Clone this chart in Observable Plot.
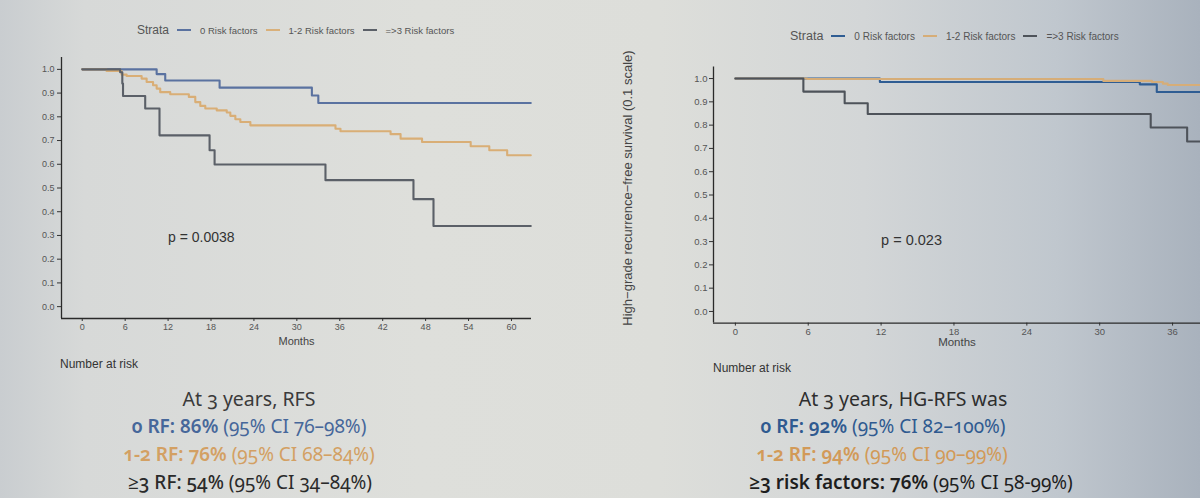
<!DOCTYPE html>
<html>
<head>
<meta charset="utf-8">
<script src="https://cdn.jsdelivr.net/npm/d3@7"></script>
<script src="https://cdn.jsdelivr.net/npm/@observablehq/plot@0.6"></script>
<style>
  html, body { margin:0; padding:0; }
  body {
    width:1200px; height:498px; overflow:hidden; position:relative;
    background: linear-gradient(90deg, #c9cdd0 0%, #d7d9d8 7%, #dedfdb 35%, #dddeda 55%, #d3d6d7 72%, #c0c7ce 88%, #a9b2bd 100%);
    font-family: "Liberation Sans", Arial, sans-serif;
  }
  .abs { position:absolute; white-space:nowrap; }
  .legend { color:#555; font-size:9.5px; display:flex; align-items:center; }
  .legend .title { font-size:12px; margin-right:8px; }
  .legend .sw { display:inline-block; width:14px; height:2px; margin:0 9px 0 0; }
  .legend .lab { margin-right:8px; }
  .nar { font-size:12px; color:#333; }
  .summary { font-family: "Noto Sans", "Open Sans", sans-serif; font-variant-numeric: oldstyle-nums; line-height:1; transform: translate(-50%, -50%); }
  .summary b { font-weight:600; }
  .ytitle { font-size:13px; color:#444; transform: translate(-50%, -50%) rotate(-90deg); }
</style>
</head>
<body>
<div id="left" class="abs" style="left:0; top:45px;"></div>
<div id="right" class="abs" style="left:600px; top:50px;"></div>

<div class="abs legend" style="left:137px; top:23px;">
  <span class="title">Strata</span>
  <span class="sw" style="background:#5a72a0"></span><span class="lab">0 Risk factors</span>
  <span class="sw" style="background:#d9b07a"></span><span class="lab">1-2 Risk factors</span>
  <span class="sw" style="background:#5b6068"></span><span class="lab">=&gt;3 Risk factors</span>
</div>
<div class="abs legend" style="left:790px; top:29px; font-size:10px;">
  <span class="title" style="font-size:12.5px">Strata</span>
  <span class="sw" style="background:#2f5d93"></span><span class="lab">0 Risk factors</span>
  <span class="sw" style="background:#d6ad78"></span><span class="lab">1-2 Risk factors</span>
  <span class="sw" style="background:#4e535a"></span><span class="lab">=&gt;3 Risk factors</span>
</div>

<div class="abs ytitle" style="left:627px; top:188px;">High−grade recurrence−free survival (0.1 scale)</div>

<div class="abs nar" style="left:60px; top:357px;">Number at risk</div>
<div class="abs nar" style="left:713px; top:361px;">Number at risk</div>

<div class="abs summary" style="left:249px; top:399px; font-size:19.5px; color:#3a3a3a;">At 3 years, RFS</div>
<div class="abs summary" style="left:249px; top:426px; font-size:19px; color:#46679a;"><b>0 RF: 86%</b> (95% CI 76–98%)</div>
<div class="abs summary" style="left:249px; top:454px; font-size:19px; color:#d3a063;"><b>1-2 RF: 76%</b> (95% CI 68–84%)</div>
<div class="abs summary" style="left:250px; top:482px; font-size:19px; color:#2a2a2a;"><b style="font-weight:500">≥3 RF: 54%</b> (95% CI 34–84%)</div>

<div class="abs summary" style="left:903px; top:399px; font-size:19.5px; color:#2e2e2e;">At 3 years, HG-RFS was</div>
<div class="abs summary" style="left:883px; top:426px; font-size:19px; color:#2f5a90;"><b>0 RF: 92%</b> (95% CI 82–100%)</div>
<div class="abs summary" style="left:882px; top:454px; font-size:19px; color:#d29a58;"><b>1-2 RF: 94%</b> (95% CI 90–99%)</div>
<div class="abs summary" style="left:911px; top:482px; font-size:19px; color:#1e1e1e;"><b>≥3 risk factors: 76%</b> (95% CI 58-99%)</div>

<script>
// ---- Left panel (RFS) ----
const strata = ["0 Risk factors", "1-2 Risk factors", "=>3 Risk factors"];
const leftTime0 = [0, 10.4, 11.6, 19.2, 32.1, 33.0, 62.7];
const leftSurv0 = [1.0, 0.98, 0.953, 0.923, 0.89, 0.858, 0.858];
const leftTime1 = [0, 3.4, 5.5, 6.2, 8.3, 9.0, 9.9, 10.4, 10.9, 12.3, 14.9, 15.8, 16.5, 17.2, 18.8, 20.2, 20.7, 21.4, 22.1, 23.5, 35.4, 36.1, 43.1, 44.5, 47.5, 54.3, 56.9, 59.4, 62.7];
const leftSurv1 = [1.0, 0.993, 0.978, 0.972, 0.961, 0.947, 0.933, 0.919, 0.904, 0.895, 0.884, 0.862, 0.846, 0.835, 0.827, 0.818, 0.804, 0.79, 0.778, 0.764, 0.75, 0.739, 0.727, 0.708, 0.694, 0.676, 0.659, 0.638, 0.638];
const leftTime2 = [0, 5.3, 5.6, 5.7, 8.8, 10.8, 17.8, 18.5, 34.0, 46.3, 49.1, 62.7];
const leftSurv2 = [1.0, 0.988, 0.94, 0.888, 0.835, 0.722, 0.659, 0.599, 0.533, 0.453, 0.34, 0.34];
const leftXTicks = [0, 6, 12, 18, 24, 30, 36, 42, 48, 54, 60];
const leftPValue = "p = 0.0038";

// ---- Right panel (HG-RFS) ----
const rightTime0 = [0, 11.9, 33.3, 34.7, 38.3];
const rightSurv0 = [1.0, 0.985, 0.975, 0.942, 0.942];
const rightTime1 = [0, 5.9, 30.3, 34.3, 35.2, 35.6, 38.3];
const rightSurv1 = [1.0, 0.998, 0.99, 0.985, 0.978, 0.972, 0.972];
const rightTime2 = [0, 5.6, 9.0, 10.9, 34.2, 37.2, 38.3];
const rightSurv2 = [1.0, 0.944, 0.894, 0.848, 0.79, 0.73, 0.73];
const rightXTicks = [0, 6, 12, 18, 24, 30, 36];
const rightPValue = "p = 0.023";

const yTicks = [0, 0.1, 0.2, 0.3, 0.4, 0.5, 0.6, 0.7, 0.8, 0.9, 1.0];

function rows(times, survs, s) {
  return times.map((t, i) => ({time: t, surv: survs[i], strata: s}));
}
const leftData = [
  ...rows(leftTime0, leftSurv0, strata[0]),
  ...rows(leftTime1, leftSurv1, strata[1]),
  ...rows(leftTime2, leftSurv2, strata[2])
];
const rightData = [
  ...rows(rightTime0, rightSurv0, strata[0]),
  ...rows(rightTime1, rightSurv1, strata[1]),
  ...rows(rightTime2, rightSurv2, strata[2])
];

function km(opts) {
  const {data, xDomain, xTicks, width, height, mL, mR, mT, mB, colors, pText, pX, pY, fs, pFs, tickPadY, labelDy} = opts;
  return Plot.plot({
    width, height,
    marginLeft: mL, marginRight: mR, marginTop: mT, marginBottom: mB,
    style: {background: "transparent", color: "#555", fontSize: fs + "px", fontFamily: "Liberation Sans, Arial, sans-serif"},
    x: {domain: xDomain},
    y: {domain: [-0.05, 1.05]},
    color: {domain: strata, range: colors},
    marks: [
      Plot.axisX({ticks: xTicks, tickSize: 3, tickPadding: 2, label: null, fontSize: fs, stroke: "#333"}),
      Plot.axisY({ticks: yTicks, tickFormat: d3.format(".1f"), tickSize: 4, tickPadding: tickPadY, label: null, fontSize: fs, stroke: "#333"}),
      Plot.ruleX([xDomain[0]], {stroke: "#2a2a2a", strokeWidth: 1.3}),
      Plot.ruleY([-0.05], {stroke: "#2a2a2a", strokeWidth: 1.3}),
      Plot.line(data, {x: "time", y: "surv", z: "strata", stroke: "strata", curve: "step-after", strokeWidth: 2.1}),
      Plot.text([pText], {x: pX, y: pY, text: d => d, textAnchor: "start", fontSize: pFs, fill: "#333"}),
      Plot.text(["Months"], {frameAnchor: "bottom", dy: labelDy, lineAnchor: "middle", fontSize: fs + 2, fill: "#444"})
    ]
  });
}

document.getElementById("left").append(km({
  data: leftData, xDomain: [-2.9, 62.8], xTicks: leftXTicks,
  width: 560, height: 305, mL: 61, mR: 29, mT: 12, mB: 32,
  colors: ["#5a72a0", "#d9ae76", "#5b6068"],
  pText: leftPValue, pX: 12, pY: 0.29, fs: 9, pFs: 14, tickPadY: 3, labelDy: 23
}));

document.getElementById("right").append(km({
  data: rightData, xDomain: [-1.8, 38.3], xTicks: rightXTicks,
  width: 600, height: 305, mL: 113, mR: 0, mT: 16.4, mB: 32.4,
  colors: ["#2f5d93", "#d6ad78", "#4e535a"],
  pText: rightPValue, pX: 12, pY: 0.305, fs: 9.5, pFs: 14.5, tickPadY: 2, labelDy: 19
}));
</script>
</body>
</html>
